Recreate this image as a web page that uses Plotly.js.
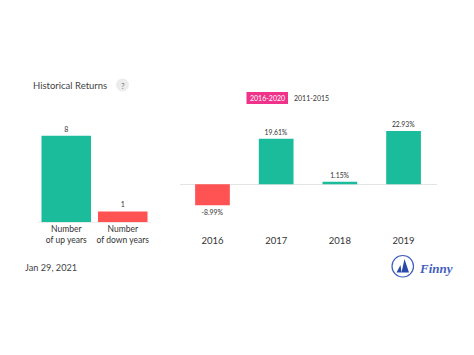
<!DOCTYPE html>
<html><head><meta charset="utf-8">
<script src="https://cdn.plot.ly/plotly-3.0.1.min.js"></script>
<style>html,body{margin:0;padding:0;background:#fff}#c{width:474px;height:355px}</style></head>
<body><div id="c"></div>
<script>
const countLabels = ["Number<br>of up years", "Number<br>of down years"];
const countValues = [8, 1];
const countText = ["8", "1"];
const years = ["2016", "2017", "2018", "2019"];
const returns = [-8.99, 19.61, 1.15, 22.93];
const returnText = ["-8.99%", "19.61%", "1.15%", "22.93%"];
const UP = "#1abc9c", DOWN = "#ff5252";
const W = 474, H = 355;
const px = x => x / W, py = y => 1 - y / H;
const FONT = "Lato, 'Open Sans', sans-serif";
const colour = v => v < 0 ? DOWN : UP;

const traces = [
  {type: "bar", x: countLabels, y: countValues, text: countText, textposition: "outside",
   cliponaxis: false, width: 0.876, marker: {color: countValues.map((v, i) => i ? DOWN : UP)},
   textfont: {size: 7, color: "#333", family: FONT}, xaxis: "x", yaxis: "y", hoverinfo: "x+y"},
  {type: "bar", x: years, y: returns, text: returnText, textposition: "outside",
   cliponaxis: false, width: 0.545, marker: {color: returns.map(colour)},
   textfont: {size: 6.8, color: "#333", family: FONT}, xaxis: "x2", yaxis: "y2", hoverinfo: "x+y"}
];

const note = (text, x, y, size, color, extra) => Object.assign({
  text, xref: "paper", yref: "paper", x: px(x), y: py(y), showarrow: false,
  xanchor: "left", yanchor: "middle", font: {size, color, family: FONT}
}, extra || {});

const layout = {
  width: W, height: H, showlegend: false,
  margin: {l: 0, r: 0, t: 0, b: 0, pad: 0},
  paper_bgcolor: "#fff", plot_bgcolor: "#fff", font: {family: FONT, color: "#444"},
  xaxis: {domain: [px(38), px(151)], range: [-0.5, 1.5], type: "category", anchor: "y",
          showgrid: false, showline: false, ticks: "", tickfont: {size: 8.5, color: "#333", family: FONT}, automargin: false},
  yaxis: {domain: [py(222.3), py(125)], range: [0, 8 * 97.3 / 86.6], showgrid: false, zeroline: true,
          zerolinecolor: "#eeeeee", zerolinewidth: 1, showticklabels: false, ticks: "", anchor: "x"},
  xaxis2: {domain: [px(180), px(437)], range: [-0.51, 3.525], type: "category", anchor: "y2",
           showgrid: false, showline: false, ticks: "", tickfont: {size: 9.5, color: "#333", family: FONT}, automargin: false},
  yaxis2: {domain: [py(233), py(125)], range: [-(233 - 184.3) / 2.325, (184.3 - 125) / 2.325], showgrid: false,
           zeroline: true, zerolinecolor: "#e4e4e4", zerolinewidth: 1, showticklabels: false, ticks: "", anchor: "x2"},
  shapes: [
    {type: "circle", xref: "paper", yref: "paper", x0: px(116), x1: px(129), y0: py(91.5), y1: py(78.5),
     fillcolor: "#ececec", line: {width: 0}},
    {type: "rect", xref: "paper", yref: "paper", x0: px(246.5), x1: px(288), y0: py(104), y1: py(92),
     fillcolor: "#f0328a", line: {width: 0}},
    {type: "circle", xref: "paper", yref: "paper", x0: px(392), x1: px(413.5), y0: py(277), y1: py(255.5),
     fillcolor: "rgba(0,0,0,0)", line: {color: "#3f5fc0", width: 1.2}},
    {type: "path", xref: "paper", yref: "paper", layer: "above",
     path: `M ${px(396.5)} ${py(272.5)} L ${px(400.5)} ${py(265)} L ${px(401.5)} ${py(272.5)} Z M ${px(401.5)} ${py(272.5)} L ${px(404.5)} ${py(259)} L ${px(409)} ${py(272.5)} Z`,
     fillcolor: "#2a4aa8", line: {width: 0}}
  ],
  annotations: [
    note("Historical Returns", 31, 85, 9.5, "#444"),
    note("?", 122.5, 85.5, 8, "#777", {xanchor: "center"}),
    note("2016-2020", 267.2, 98, 7, "#fff", {xanchor: "center"}),
    note("2011-2015", 291.5, 98, 7, "#333"),
    note("Jan 29, 2021", 22.5, 267, 9.2, "#444"),
    note("<b><i>Finny</i></b>", 417, 268, 13, "#3f5fc0", {font: {size: 13, color: "#3f5fc0", family: "'Liberation Serif', serif"}})
  ]
};
Plotly.newPlot("c", traces, layout, {displayModeBar: false, responsive: false});
</script></body></html>
